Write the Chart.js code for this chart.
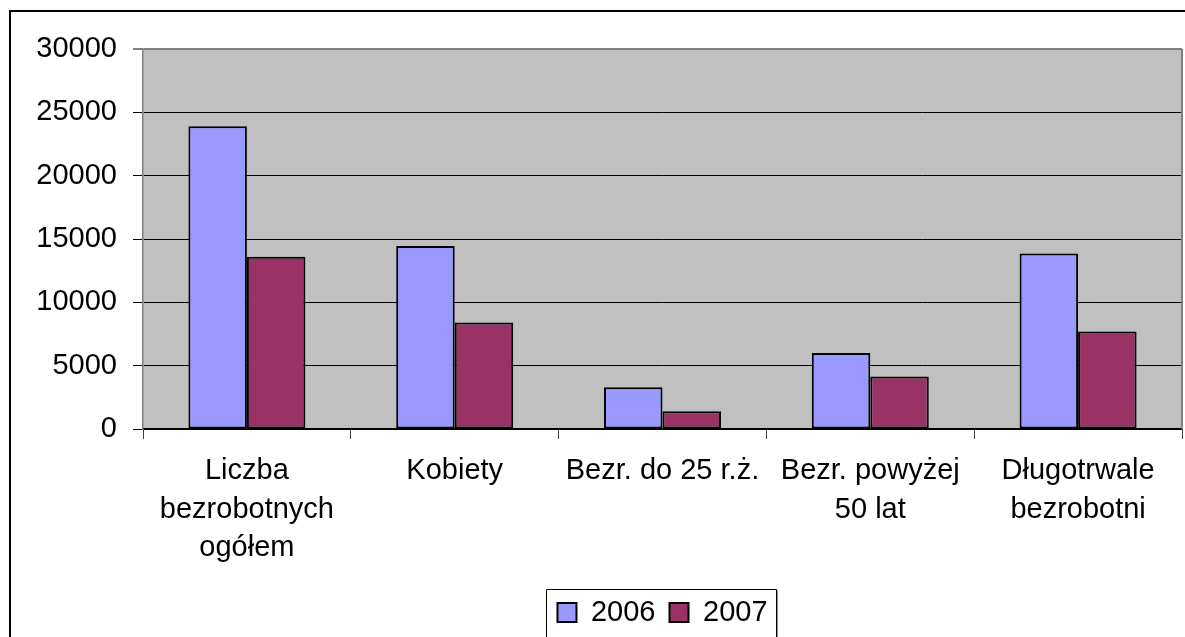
<!DOCTYPE html>
<html>
<head>
<meta charset="utf-8">
<script src="https://cdn.jsdelivr.net/npm/chart.js@4/dist/chart.umd.min.js"></script>
<style>
  html, body { margin: 0; padding: 0; background: #ffffff; overflow: hidden; }
  canvas { display: block; }
</style>
</head>
<body>
<canvas id="c" width="1185" height="637"></canvas>
<script>
const categories = [
  ["Liczba", "bezrobotnych", "ogółem"],
  ["Kobiety"],
  ["Bezr. do 25 r.ż."],
  ["Bezr. powyżej", "50 lat"],
  ["Długotrwale", "bezrobotni"]
];
const seriesNames = ["2006", "2007"];
const values2006 = [23900, 14450, 3300, 6000, 13850];
const values2007 = [13600, 8400, 1400, 4150, 7700];
const yTicks = [0, 5000, 10000, 15000, 20000, 25000, 30000];

const FONT = "'Liberation Sans', Arial, sans-serif";

const decorPlugin = {
  id: 'decor',
  afterLayout(chart) {
    const lg = chart.legend;
    if (lg) {
      lg.left = chart.chartArea.left;
      lg.right = chart.chartArea.right;
    }
  },
  beforeDraw(chart) {
    const ctx = chart.ctx;
    const a = chart.chartArea;
    ctx.save();
    ctx.fillStyle = '#ffffff';
    ctx.fillRect(0, 0, chart.width, chart.height);
    ctx.fillStyle = '#C0C0C0';
    ctx.fillRect(a.left, a.top, a.right - a.left, a.bottom - a.top);
    ctx.restore();
  },
  afterDraw(chart) {
    const ctx = chart.ctx;
    const a = chart.chartArea;
    ctx.save();
    // plot right border
    ctx.strokeStyle = '#808080';
    ctx.lineWidth = 2;
    ctx.beginPath();
    ctx.moveTo(a.right, a.top);
    ctx.lineTo(a.right, a.bottom);
    ctx.stroke();
    // outer chart border
    ctx.strokeStyle = '#000000';
    ctx.lineWidth = 2;
    ctx.beginPath();
    ctx.moveTo(10, chart.height + 5);
    ctx.lineTo(10, 11);
    ctx.lineTo(chart.width + 5, 11);
    ctx.stroke();
    // legend frame
    const hb = chart.legend && chart.legend.legendHitBoxes;
    if (hb && hb.length) {
      const last = hb[hb.length - 1];
      const l = Math.round(hb[0].left - 11) + 0.5;
      const r = Math.round(last.left + last.width + 8) + 0.5;
      const t = 589.5;
      ctx.strokeStyle = '#000000';
      ctx.lineWidth = 1;
      ctx.beginPath();
      ctx.moveTo(l, chart.height + 5);
      ctx.lineTo(l, t);
      ctx.lineTo(r, t);
      ctx.lineTo(r, chart.height + 5);
      ctx.stroke();
      ctx.strokeStyle = '#909090';
      ctx.beginPath();
      ctx.moveTo(r + 1, t + 1);
      ctx.lineTo(r + 1, chart.height + 5);
      ctx.stroke();
    }
    ctx.restore();
  }
};

new Chart(document.getElementById('c'), {
  type: 'bar',
  data: {
    labels: categories,
    datasets: [
      {
        label: seriesNames[0],
        data: values2006,
        backgroundColor: '#9999FF',
        borderColor: '#000000',
        borderWidth: 2,
        borderSkipped: false,
        barPercentage: 1,
        categoryPercentage: 0.563
      },
      {
        label: seriesNames[1],
        data: values2007,
        backgroundColor: '#993366',
        borderColor: '#000000',
        borderWidth: 2,
        borderSkipped: false,
        barPercentage: 1,
        categoryPercentage: 0.563
      }
    ]
  },
  options: {
    responsive: false,
    animation: false,
    devicePixelRatio: 1,
    layout: { padding: { top: 49, right: 3, left: 0, bottom: 0 } },
    plugins: {
      title: { display: false },
      tooltip: { enabled: false },
      legend: {
        display: true,
        position: 'bottom',
        align: 'center',
        labels: {
          boxWidth: 19,
          boxHeight: 19,
          padding: 14,
          color: '#000000',
          font: { family: FONT, size: 29 }
        }
      }
    },
    scales: {
      x: {
        offset: true,
        grid: {
          offset: true,
          drawOnChartArea: false,
          drawTicks: true,
          tickLength: 10,
          color: '#404040',
          lineWidth: 1
        },
        border: { display: true, color: '#000000', width: 1.5 },
        ticks: {
          color: '#000000',
          autoSkip: false,
          maxRotation: 0,
          minRotation: 0,
          padding: 13,
          font: { family: FONT, size: 29, lineHeight: 1.33 }
        },
        afterFit(scale) { scale.height = 155; }
      },
      y: {
        min: 0,
        max: 30000,
        afterBuildTicks(scale) {
          scale.ticks = yTicks.map(v => ({ value: v }));
        },
        grid: {
          drawTicks: true,
          tickLength: 10,
          color: (c) => (c.tick && c.tick.value === 30000) ? '#808080' : '#000000',
          lineWidth: (c) => (c.tick && c.tick.value === 30000) ? 2 : 1
        },
        border: { display: true, color: '#808080', width: 1.5 },
        ticks: {
          color: '#000000',
          padding: 16,
          font: { family: FONT, size: 29 },
          callback: (v) => String(v)
        },
        afterFit(scale) { scale.width = 143; }
      }
    }
  },
  plugins: [decorPlugin]
});
</script>
</body>
</html>
